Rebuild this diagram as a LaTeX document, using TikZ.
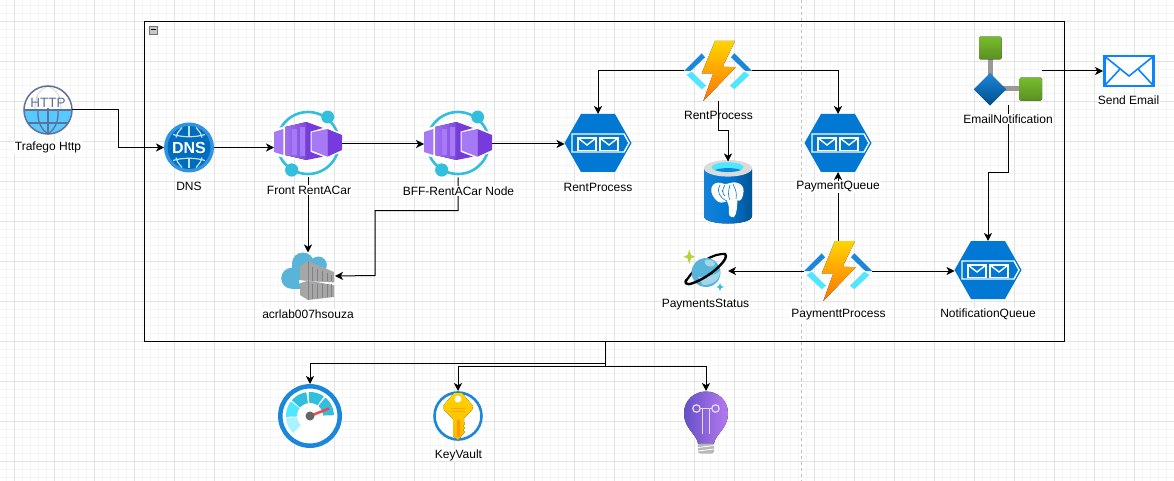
\documentclass[tikz,border=0pt]{standalone}
\usepackage{fontspec}
\setmainfont{Liberation Sans}
\usetikzlibrary{arrows.meta}
\definecolor{azblue}{HTML}{0078D4}
\definecolor{azsky}{HTML}{50E6FF}
\definecolor{azcyan}{HTML}{32BEDD}
\definecolor{azmid}{HTML}{1B87DC}
\definecolor{azpurple}{HTML}{A67AF4}
\definecolor{azdeep}{HTML}{773ADC}
\definecolor{azcloud}{HTML}{59B4D9}
\definecolor{azgold}{HTML}{FFD400}
\definecolor{azleaf}{HTML}{76BC2D}
\definecolor{azmoss}{HTML}{5B9021}
\definecolor{azlime}{HTML}{B4D335}
\definecolor{httpline}{HTML}{5C7299}
\definecolor{mailblue}{HTML}{0A84FF}
\definecolor{bulbleft}{HTML}{6650C8}
\definecolor{bulbright}{HTML}{B57AF0}
\tikzset{
  x=1pt,y=-1pt,
  icon/.style={inner sep=0pt,outer sep=0pt},
  lbl/.style={fill=white,inner xsep=1pt,inner ysep=0.5pt,font=\fontsize{12}{14}\selectfont,text=black},
  conn/.style={-{Stealth[length=8pt,width=8pt,inset=2.2pt]},line width=1pt,black},
  httpicon/.pic={
    \fill[white] (0,0) circle (24);
    \fill[azsky!85!blue!90!white] (-24,0) .. controls (-24,13) and (-13,24) .. (0,24) .. controls (13,24) and (24,13) .. (24,0) -- cycle;
    \draw[black!13,line width=1.2pt] (0,-24) .. controls (-13,-18) and (-13,-8) .. (-13,0);
    \draw[black!13,line width=1.2pt] (0,-24) .. controls (13,-18) and (13,-8) .. (13,0);
    \draw[httpline,line width=1.3pt] (0,-2) -- (0,24);
    \draw[httpline,line width=1.3pt] (-10,0) .. controls (-11,12) and (-6,20) .. (0,24) .. controls (6,20) and (11,12) .. (10,0);
    \draw[httpline,line width=1.3pt] (-20,13) -- (20,13);
    \draw[httpline,line width=1.8pt] (-24,0) -- (24,0);
    \draw[httpline,line width=1.5pt] (0,0) circle (24);
    \node[icon,text=httpline,font=\fontsize{13.5}{13.5}\selectfont] at (0,-7.5) {HTTP};
  },
  dnsicon/.pic={
    \fill[azmid!90!white] (0,0) circle (25);
    \fill[azblue!90!black] (0,0) circle (21.5);
    \draw[white!75!azmid,line width=1.2pt] (0,-21) -- (0,-11) (0,11) -- (0,21);
    \draw[white!75!azmid,line width=1.2pt] (-7,-20) .. controls (-12,-14) .. (-13,-10) (7,-20) .. controls (12,-14) .. (13,-10);
    \draw[white!75!azmid,line width=1.2pt] (-7,20) .. controls (-12,14) .. (-13,10) (7,20) .. controls (12,14) .. (13,10);
    \draw[white!75!azmid,line width=1.2pt] (-16,-13) .. controls (-6,-10) and (6,-10) .. (16,-13);
    \draw[white!75!azmid,line width=1.2pt] (-16,13) .. controls (-6,10) and (6,10) .. (16,13);
    \node[icon,text=white,font=\fontsize{16}{16}\selectfont\bfseries] at (0,0) {DNS};
  },
  capicon/.pic={
    \draw[azcyan,line width=2.6pt] (0,-1) circle (31);
    \fill[azcyan] (19.7,-27) circle (6.4);
    \fill[azcyan] (-16.3,26) circle (6.6);
    \fill[white] (-36,-14) -- (-1,-24.5) -- (36,-10) -- (36,8) -- (-1,18.5) -- (-36,11) -- cycle;
    \fill[azpurple] (-34,-12) -- (-24.7,-15) -- (-24.7,11) -- (-34,8) -- cycle;
    \fill[left color=azpurple!85!azdeep,right color=azdeep!80!azpurple] (-23,-17) -- (-1.3,-22) -- (-1.3,16) -- (-23,11) -- cycle;
    \fill[azpurple] (-16,-15) rectangle (-11,11);
    \fill[azpurple] (-8,-17) rectangle (-3,12);
    \fill[azdeep] (-1.3,-22) -- (15,-16) -- (2.7,-12.5) -- (2.7,8) -- (15,12.7) -- (-1.3,16) -- cycle;
    \fill[azpurple] (3.7,-11.7) -- (19.3,-15) -- (19.3,12.7) -- (3.7,6.5) -- cycle;
    \fill[azdeep] (19.3,-15) -- (34,-9) -- (34,6) -- (19.3,12.7) -- cycle;
  },
  queueicon/.pic={
    \fill[azblue] (-33.5,0) -- (-17,-29) -- (17,-29) -- (33.5,0) -- (17,29) -- (-17,29) -- cycle;
    \draw[white,line width=1.4pt] (-26,-9) -- (26,-9) -- (31,0) -- (26,9) -- (-26,9) -- cycle;
    \foreach \ex in {-20,2} {
      \draw[white,line width=1.4pt,fill=azblue] (\ex,-5) rectangle ++(18,12.5);
      \draw[white,line width=1.4pt] (\ex,-5) -- ++(9,7) -- ++(9,-7);
    }
  },
  funcicon/.pic={
    \foreach \side in {-1,1} {
      \fill[azmid] (\side*34,0) -- (\side*16.3,-17.7) -- (\side*13,-13.7) -- (\side*27.3,0) -- cycle;
      \fill[azsky] (\side*26.3,0.7) -- (\side*12,14.7) -- (\side*16.3,18.3) -- (\side*31.3,4) -- cycle;
    }
    \fill[top color=azgold,bottom color=orange!90!red] (-3,-30) -- (17,-30) -- (4.7,-4.3) -- (17.7,-3.7) -- (-14.7,30) -- (-4.7,2.3) -- (-16.3,2.3) -- cycle;
  },
  pgicon/.pic={
    \fill[left color=azblue!92!white,right color=azblue!70!black,middle color=azblue] (-24,-24) -- (24,-24) -- (24,23) .. controls (24,33) and (-24,33) .. (-24,23) -- cycle;
    \fill[black!14] (0,-24.7) ellipse (24 and 8.3);
    \fill[azsky] (-0.5,-25.7) ellipse (16 and 5);
    \fill[azblue!85!azsky] (-13,-23) .. controls (-7,-25.5) and (7,-25.5) .. (13,-23) .. controls (7,-20.4) and (-7,-20.4) .. (-13,-23) -- cycle;
    \fill[white] (-13,6) .. controls (-21,-4) and (-15,-12) .. (-7,-10) .. controls (-3,-8.5) and (0,-9) .. (2,-10) .. controls (9,-12) and (18,-9) .. (15,2) .. controls (14,7) and (11,9) .. (9.5,7) .. controls (9,13) and (9,21) .. (6,24) .. controls (2,25) and (0,22) .. (1,17) .. controls (1,13) and (0,10) .. (-1,8) .. controls (-5,10) and (-9,11) .. (-13,6) -- cycle;
    \draw[azblue,line width=.6pt] (-8,-8) .. controls (-12,-1) and (-8,5) .. (-1,8);
    \draw[azblue,line width=.6pt] (-3,-8) .. controls (-6,-4) and (-6,1) .. (-3,3);
    \draw[azblue,line width=.6pt] (5,-9) .. controls (8,-3) and (9,1) .. (8,6);
    \draw[azblue,line width=.6pt] (2,-8) .. controls (0,-2) and (0,4) .. (2,7);
    \fill[azblue] (-5.5,-2) circle (.8);
  },
  notifyicon/.pic={
    \draw[black!40,line width=5pt] (-18,-12) -- (-18,18) -- (12,18);
    \fill[top color=azmid,bottom color=azblue!65!black] (-18,2.3) -- (-2,18.3) -- (-18,34.3) -- (-34,18.3) -- cycle;
    \fill[rounded corners=1.5pt,top color=azleaf,bottom color=azmoss] (-29,-34.3) rectangle (-6.3,-11.7);
    \fill[rounded corners=1.5pt,top color=azleaf,bottom color=azmoss] (11.3,6.7) rectangle (34,29.7);
  },
  mailicon/.pic={
    \draw[mailblue,line width=2.4pt,fill=white] (-24.5,-14.8) rectangle (24.5,14.8);
    \draw[mailblue,line width=1.6pt] (-24.5,-14.8) -- (0,5) -- (24.5,-14.8);
    \draw[mailblue,line width=1.6pt] (-24.5,14.8) -- (-9,-2) (24.5,14.8) -- (9,-2);
  },
  cosmosicon/.pic={
    \draw[black,line width=2.2pt] (-20,10) .. controls (-8,-8) and (6,-18) .. (20,-17);
    \fill[azcloud] (0,1.5) circle (14.5);
    \fill[azcloud!55!white] (-3,14) .. controls (8,14) and (14,8) .. (14,0) .. controls (8,5) and (0,6) .. (-8,6) -- cycle;
    \fill[azcloud!55!white] (-1,-11) .. controls (6,-13) and (11,-8) .. (8,-5) .. controls (3,-3) and (-3,-6) .. (-1,-11) -- cycle;
    \draw[black,line width=2.4pt,line cap=round] (19,-17) .. controls (24,-13) and (8,2) .. (-6,9) .. controls (-16,14) and (-22,15) .. (-20,9);
    \fill[azlime] (-16.7,-21.5) -- (-15,-16) -- (-11,-14.3) -- (-15,-12.6) -- (-16.7,-7) -- (-18.4,-12.6) -- (-22.4,-14.3) -- (-18.4,-16) -- cycle;
    \fill[azcyan] (14,11.5) -- (15,15) -- (18,16) -- (15,17) -- (14,20.5) -- (13,17) -- (10,16) -- (13,15) -- cycle;
  },
  acricon/.pic={
    \fill[azcloud] (-16.3,2.3) circle (10.5);
    \fill[azcloud] (-5,-12.5) circle (11);
    \fill[azcloud] (10.3,-11) circle (8.5);
    \fill[azcloud] (-16,-11) rectangle (12,12.8);
    \fill[black!35] (-8,-10) -- (0,-15) -- (26,-4) -- (26,6.7) -- (0,5) -- (-8,4) -- cycle;
    \fill[black!35] (-8,7.5) -- (0,4.5) -- (26,9) -- (26,21) -- (0,24) -- (-8,19) -- cycle;
    \fill[white] (-9,4) -- (0,5) -- (27,6.7) -- (27,9) -- (0,4.5) -- (-9,7.5) -- cycle;
    \foreach \sx in {4,9,14,19,23} {
      \draw[black!50,line width=.6pt] (\sx,{-12+\sx*.4+1.5}) -- (\sx,5);
      \draw[black!50,line width=.6pt] (\sx,7.5) -- (\sx,{23-\sx*.1});
    }
    \draw[black!50,line width=.6pt] (0,-15) -- (0,5) (0,4.5) -- (0,24);
  },
  gaugeicon/.pic={
    \draw[azmid,fill=white,line width=4.5pt] (0,0) circle (29.7);
    \fill[azsky!50!white] plot[domain=135:175,samples=7] (\x:24) -- plot[domain=175:135,samples=7] (\x:13) -- cycle;
    \fill[azsky] plot[domain=178:217,samples=7] (\x:24) -- plot[domain=217:178,samples=7] (\x:13) -- cycle;
    \fill[azcyan] plot[domain=221:261,samples=7] (\x:24) -- plot[domain=261:221,samples=7] (\x:13) -- cycle;
    \fill[azcyan] plot[domain=267:305,samples=7] (\x:24) -- plot[domain=305:267,samples=7] (\x:13) -- cycle;
    \fill[azcyan] plot[domain=310:358,samples=7] (\x:24) -- plot[domain=358:310,samples=7] (\x:13) -- cycle;
    \draw[red!75!white,line width=2.4pt] (0,0) -- (19,-7.5);
    \fill[black!60] (0,0) circle (4.5);
  },
  vaulticon/.pic={
    \draw[azmid,fill=white,line width=2.6pt] (0,0) circle (23.5);
    \fill[top color=azgold,bottom color=azgold!65!orange] (-4,-23) -- (4,-23) -- (15,-10) -- (14,-6) -- (6,2) -- (6,6) -- (7,8) -- (5,10) -- (7,12) -- (5,14) -- (7,16) -- (5,18) -- (2,22) -- (0,24) -- (-5,20) -- (-5,3) -- (-14,-6) -- (-15,-10) -- cycle;
    \fill[white] (0,-17) circle (3.5);
    \draw[orange!70!yellow,line width=.9pt] (-7,-8) -- (7,-8) (-7,-5) -- (7,-5);
    \fill[orange!80!yellow] (-1,4) rectangle (2,21);
  },
  bulbicon/.pic={
    \fill[left color=bulbleft,right color=bulbright] (-8,21) .. controls (-9,12) and (-22,6) .. (-22,-9) .. controls (-22,-23) and (-11,-31) .. (0,-31) .. controls (11,-31) and (22,-23) .. (22,-9) .. controls (22,6) and (9,12) .. (8,21) -- cycle;
    \draw[white!70!azpurple,line width=1.3pt] (-9.5,-14) circle (3.7);
    \draw[white!70!azpurple,line width=1.3pt] (9.5,-14) circle (3.7);
    \draw[white!70!azpurple,line width=1.3pt] (-6,-14) -- (6,-14);
    \draw[white!70!azpurple,line width=1.3pt] (-3.5,-14) -- (-3.5,11) (3.5,-14) -- (3.5,11);
    \fill[black!28,rounded corners=2pt] (-8,21) rectangle (8,31);
    \draw[white,line width=.8pt] (-8,25) -- (8,23) (-8,28.5) -- (8,26.5);
  }
}
\begin{document}
\begin{tikzpicture}
  \useasboundingbox (0,0) rectangle (1174,481);
  \fill[white] (0,0) rectangle (1174,481);
  % page grid
  \foreach \gx in {6.5,14.5,...,1174} \draw[black!4] (\gx,0) -- (\gx,481);
  \foreach \gy in {5,13,...,481} \draw[black!4] (0,\gy) -- (1174,\gy);
  \foreach \gx in {14.5,54.5,...,1174} \draw[black!11] (\gx,0) -- (\gx,481);
  \foreach \gy in {21,61,...,481} \draw[black!11] (0,\gy) -- (1174,\gy);
  \draw[black!25,dashed] (801.5,0) -- (801.5,481);

  \node (group) at (604.5,181.5) [icon,draw=black,line width=1pt,minimum width=920pt,minimum height=320pt] {};
  \node (collapse) at (153,30) [icon,draw=black!55,fill=black!22,minimum size=8pt] {};
  \draw[black,line width=1pt] (150.5,30) -- (155.5,30);

  \node (http) at (48,110) [icon,minimum size=48pt] {};
  \node (dns) at (189,147.5) [icon,minimum size=50pt] {};
  \node (front) at (308,144) [icon,minimum width=68pt,minimum height=67pt] {};
  \node (bff) at (458,144) [icon,minimum width=68pt,minimum height=67pt] {};
  \node (rentq) at (598,143) [icon,minimum width=67pt,minimum height=58pt] {};
  \node (rentfn) at (718,71) [icon,minimum width=68pt,minimum height=60pt] {};
  \node (pg) at (728,193) [icon,minimum width=48pt,minimum height=63pt] {};
  \node (payq) at (838,143) [icon,minimum width=67pt,minimum height=58pt] {};
  \node (mailapp) at (1008,71) [icon,minimum width=68pt,minimum height=68pt] {};
  \node (mail) at (1129,71) [icon,minimum width=52pt,minimum height=32pt] {};
  \node (notifq) at (988,270) [icon,minimum width=67pt,minimum height=58pt] {};
  \node (payfn) at (838,271) [icon,minimum width=68pt,minimum height=60pt] {};
  \node (cosmos) at (706,271) [icon,minimum width=44pt,minimum height=40pt] {};
  \node (acr) at (308,276) [icon,minimum width=54pt,minimum height=47pt] {};
  \node (gauge) at (310,416) [icon,minimum size=64pt] {};
  \node (vault) at (458,416) [icon,minimum size=50pt] {};
  \node (bulb) at (706,422.5) [icon,minimum width=44pt,minimum height=63pt] {};
  \coordinate (groupout) at (605,341.5);

  \pic at (http) {httpicon};
  \pic at (dns) {dnsicon};
  \pic at (front) {capicon};
  \pic at (bff) {capicon};
  \pic at (rentq) {queueicon};
  \pic at (rentfn) {funcicon};
  \pic at (pg) {pgicon};
  \pic at (payq) {queueicon};
  \pic at (mailapp) {notifyicon};
  \pic at (mail) {mailicon};
  \pic at (notifq) {queueicon};
  \pic at (payfn) {funcicon};
  \pic at (cosmos) {cosmosicon};
  \pic at (acr) {acricon};
  \pic at (gauge) {gaugeicon};
  \pic at (vault) {vaulticon};
  \pic at (bulb) {bulbicon};

  % connectors
  \draw [conn] (http.east) -- ++(46,0) |- (dns.west);
  \draw [conn] (dns.east) -- (dns.east -| front.west);
  \draw [conn] (front.east) -- (bff.west);
  \draw [conn] (bff.east) -- (bff.east -| rentq.west);
  \draw [conn] (rentfn.west) -| (rentq.north);
  \draw [conn] (rentfn.east) -| (payq.north);
  \draw [conn] (rentfn.south) -- ++(0,30) -| (pg.north);
  \draw [conn] (front.south) -- (acr.north);
  \draw [conn] (bff.south) -- ++(0,33) -| ++(-83,65) -- (acr.east);
  \draw [conn] (payfn.north) -- (payq.south);
  \draw [conn] (payfn.west) -- (cosmos.east);
  \draw [conn] (payfn.east) -- (notifq.west |- payfn.east);
  \draw [conn] (mailapp.south) -- ++(0,68) -| (notifq.north);
  \draw [conn] (mailapp.east) -- (mail.west);
  \draw [conn] (groupout) -- ++(0,22) -| (gauge.north);
  \draw [conn] (groupout) -- ++(0,25) -| (vault.north);
  \draw [conn] (groupout) -- ++(0,25) -| (bulb.north);

  % labels
  \node (httplbl) at (48,147.5) [lbl] {Trafego Http};
  \node (dnslbl) at (189,186.5) [lbl] {DNS};
  \node (frontlbl) at (309,190) [lbl] {Front RentACar};
  \node (bfflbl) at (458.5,191) [lbl] {BFF-RentACar Node};
  \node (rentqlbl) at (598,187) [lbl] {RentProcess};
  \node (rentfnlbl) at (718.5,115.5) [lbl,fill=none] {RentProcess};
  \node (payqlbl) at (838,187) [lbl] {PaymentQueue};
  \node (maillbl) at (1128.5,100) [lbl] {Send Email};
  \node (mailapplbl) at (1008,119) [lbl] {EmailNotification};
  \node (notifqlbl) at (988,314) [lbl] {NotificationQueue};
  \node (payfnlbl) at (838.5,315) [lbl] {PaymenttProcess};
  \node (cosmoslbl) at (705.5,305) [lbl] {PaymentsStatus};
  \node (acrlbl) at (308,314) [lbl] {acrlab007hsouza};
  \node (vaultlbl) at (458.5,455) [lbl] {KeyVault};
\end{tikzpicture}
\end{document}
